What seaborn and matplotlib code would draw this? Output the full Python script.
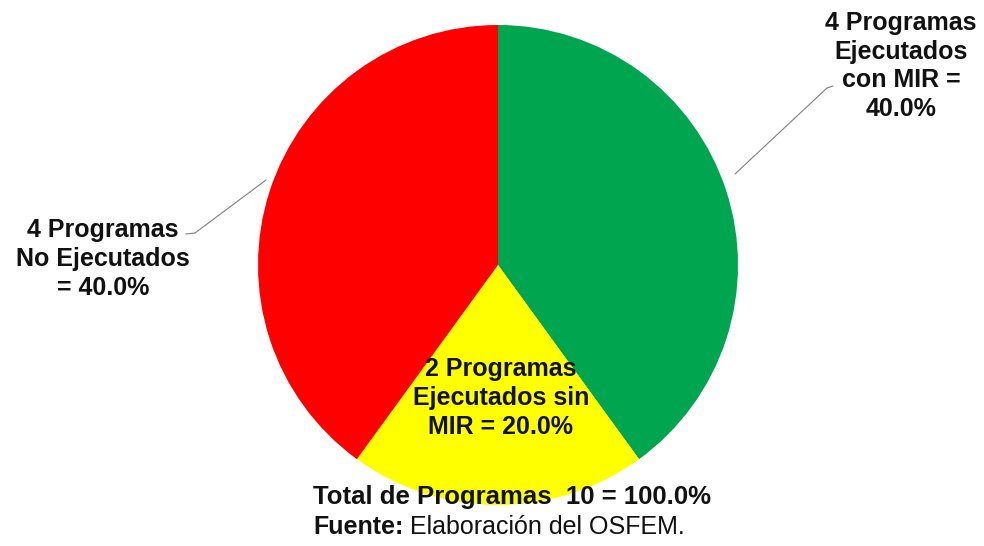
import matplotlib.pyplot as plt
import seaborn as sns

sns.set_style('white')
plt.rcParams['font.family'] = ['Liberation Sans', 'DejaVu Sans']

# datos
categorias = ['Ejecutados con MIR', 'Ejecutados sin MIR', 'No Ejecutados']
programas = [4, 2, 4]
colores = ['#00A550', '#FFFF00', '#FF0000']
etiquetas = ['4 Programas\nEjecutados\ncon MIR =\n40.0%',
             '2 Programas\nEjecutados sin\nMIR = 20.0%',
             '4 Programas\nNo Ejecutados\n= 40.0%']
total_texto = 'Total de Programas  10 = 100.0%'

fig = plt.figure(figsize=(9.84, 5.46), dpi=100)
ax = fig.add_axes([0, 0, 1, 1])

# pastel en coordenadas de pixel (y hacia arriba)
cx, cy, r = 498, 546 - 265, 240
ax.pie(programas, colors=colores, startangle=90, counterclock=False,
       center=(cx, cy), radius=r, frame=True,
       wedgeprops=dict(linewidth=0))
ax.set_xlim(0, 984)
ax.set_ylim(0, 546)
ax.set_aspect('equal')
ax.axis('off')

lbl = dict(fontsize=18, fontweight='bold', ha='center', va='center',
           linespacing=1.25, color='#111111')
linea = dict(arrowstyle='-', color='#808080', lw=0.8, shrinkA=0, shrinkB=0)

# verde
ax.text(901, 546 - 66, etiquetas[0], **lbl)
ax.annotate('', xy=(735, 546 - 174), xytext=(827, 546 - 88), arrowprops=linea)
ax.annotate('', xy=(827, 546 - 88), xytext=(833, 546 - 86), arrowprops=linea)
# amarillo
ax.text(501, 546 - 398, etiquetas[1], **lbl)
# rojo
ax.text(103, 546 - 259, etiquetas[2], **lbl)
ax.annotate('', xy=(266, 546 - 180), xytext=(195, 546 - 233), arrowprops=linea)
ax.annotate('', xy=(195, 546 - 233), xytext=(186, 546 - 234), arrowprops=linea)

ax.text(512, 546 - 497, total_texto, fontsize=18.5, fontweight='bold',
        ha='center', va='center', color='#111111')
t1 = ax.text(313, 546 - 527, 'Fuente:', fontsize=18, fontweight='bold',
             ha='left', va='center', color='#111111')
ax.annotate(' Elaboración del OSFEM.', xy=(1, 0), xycoords=t1,
            va='bottom', ha='left', fontsize=18, color='#111111')

plt.savefig('out.png', dpi=100, facecolor='white')
